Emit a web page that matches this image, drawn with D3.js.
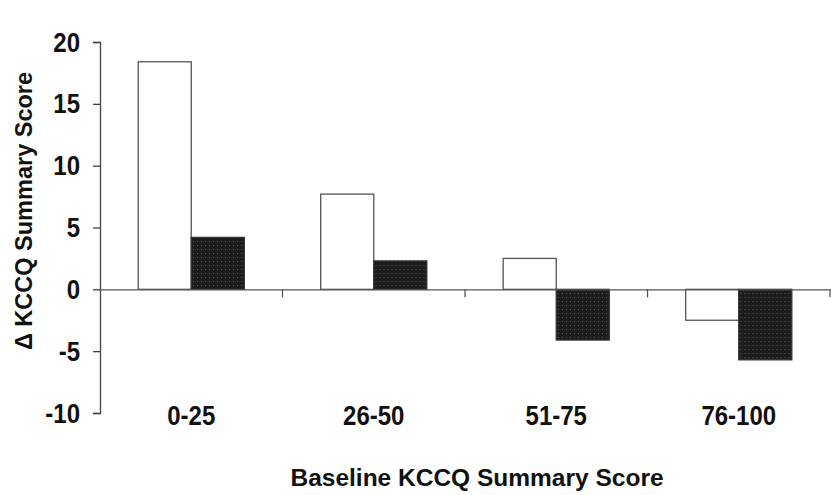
<!DOCTYPE html>
<html>
<head>
<meta charset="utf-8">
<script src="https://cdn.jsdelivr.net/npm/d3@7"></script>
<style>
body { margin: 0; background: #fff; }
svg text { font-family: "Liberation Sans", Arial, sans-serif; font-weight: bold; fill: #111; }
</style>
</head>
<body>
<svg id="chart" width="831" height="495"></svg>
<script>
var categories = ['0-25', '26-50', '51-75', '76-100'];
var seriesNames = ['open', 'filled'];
var openValues = [18.4, 7.7, 2.5, -2.5];
var filledValues = [4.2, 2.3, -4.1, -5.7];
var yTicks = [-10, -5, 0, 5, 10, 15, 20];

var svg = d3.select('#chart');

// stipple for the dark bars
var pat = svg.append('defs').append('pattern')
	.attr('id', 'stip').attr('patternUnits', 'userSpaceOnUse')
	.attr('width', 4).attr('height', 4);
pat.append('rect').attr('width', 4).attr('height', 4).attr('fill', '#1c1c1c');
pat.append('rect').attr('x', 1).attr('y', 1).attr('width', 1).attr('height', 1).attr('fill', '#5a5a5a');

var x = d3.scaleBand().domain(categories).range([100, 830]).padding(0);
var xs = d3.scaleBand().domain(seriesNames).range([0, x.bandwidth()]).paddingInner(0).paddingOuter(0.72);
var y = d3.scaleLinear().domain([-10, 20]).range([413, 42]);

var rows = categories.map((c, i) => ({cat: c, values: [
	{name: 'open', v: openValues[i]},
	{name: 'filled', v: filledValues[i]}
]}));

var groups = svg.append('g').selectAll('g').data(rows).enter().append('g')
	.attr('transform', d => 'translate(' + x(d.cat) + ',0)');

groups.selectAll('rect').data(d => d.values).enter().append('rect')
	.attr('x', d => xs(d.name))
	.attr('width', xs.bandwidth())
	.attr('y', d => y(Math.max(0, d.v)))
	.attr('height', d => Math.abs(y(d.v) - y(0)))
	.attr('fill', d => d.name == 'open' ? '#fff' : 'url(#stip)')
	.attr('stroke', d => d.name == 'open' ? '#555' : '#333')
	.attr('stroke-width', 1.3);

// y axis
var yAxis = svg.append('g').attr('transform', 'translate(100,0)')
	.call(d3.axisLeft(y).tickValues(yTicks).tickFormat(d => String(d)).tickSize(7).tickPadding(13));
yAxis.select('.domain').attr('stroke', '#444').attr('stroke-width', 1.3);
yAxis.selectAll('.tick line').attr('stroke', '#444').attr('stroke-width', 1.3);
yAxis.selectAll('.tick text').attr('font-size', 24).attr('font-family', null).attr('fill', '#111')
	.attr('transform', 'scale(1,1.15)').attr('dy', '0.33em');

// x axis along zero
var xAxis = svg.append('g').attr('transform', 'translate(0,' + y(0) + ')')
	.call(d3.axisBottom(x).tickSizeOuter(0).tickSizeInner(0).tickFormat(''));
xAxis.select('.domain').attr('stroke', '#555').attr('stroke-width', 1.3);
xAxis.selectAll('.tick').remove();
var bounds = x.domain().map(c => x(c)).slice(1).concat([x.range()[1]]);
xAxis.selectAll('.sep').data(bounds).enter().append('line')
	.attr('x1', d => d).attr('x2', d => d).attr('y1', 0).attr('y2', 8)
	.attr('stroke', '#555').attr('stroke-width', 1.3);

// category labels below the plot
svg.append('g').selectAll('text').data(categories).enter().append('text')
	.attr('x', d => x(d) + x.bandwidth() / 2)
	.attr('y', 425 / 1.15)
	.attr('transform', 'scale(1,1.15)')
	.attr('text-anchor', 'middle')
	.attr('font-size', 24)
	.text(d => d);

svg.append('text')
	.attr('x', 477).attr('y', 486)
	.attr('text-anchor', 'middle').attr('font-size', 24.5)
	.text('Baseline KCCQ Summary Score');

svg.append('text')
	.attr('transform', 'translate(32,211) rotate(-90)')
	.attr('text-anchor', 'middle').attr('font-size', 23.5)
	.text('\u0394 KCCQ Summary Score');
</script>
</body>
</html>
